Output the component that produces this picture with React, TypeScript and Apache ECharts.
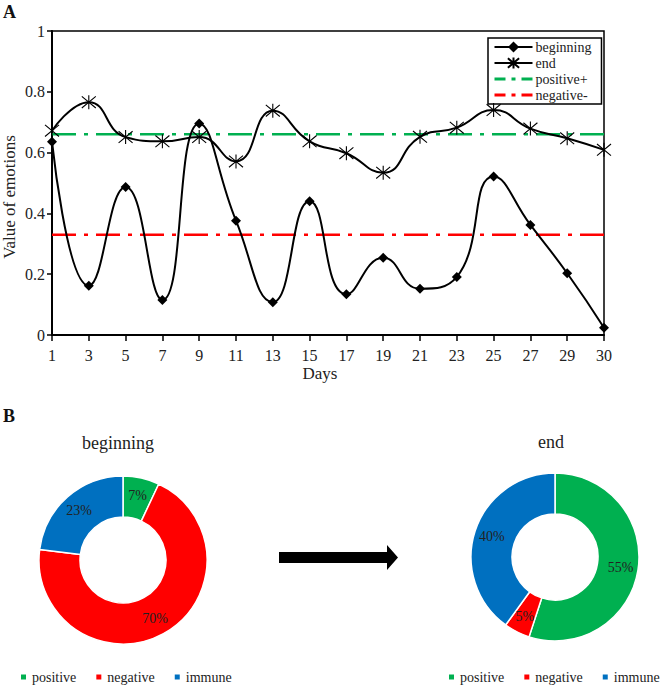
import React, { useEffect, useRef } from "react";
import * as echarts from "echarts";

const days = ["1", "3", "5", "7", "9", "11", "13", "15", "17", "19", "21", "23", "25", "27", "29", "30"];
const beginningValues = [0.636, 0.162, 0.487, 0.115, 0.696, 0.376, 0.108, 0.44, 0.134, 0.254, 0.152, 0.191, 0.521, 0.362, 0.203, 0.024];
const endValues = [0.672, 0.766, 0.651, 0.637, 0.651, 0.571, 0.738, 0.637, 0.598, 0.534, 0.652, 0.682, 0.74, 0.679, 0.647, 0.609];
const positiveLevel = 0.66;
const negativeLevel = 0.33;
const yTicks = [0, 0.2, 0.4, 0.6, 0.8, 1];

const pieCategories = ["positive", "negative", "immune"];
const beginningShares = [7, 70, 23];
const endShares = [55, 5, 40];

const GREEN = "#00B050";
const RED = "#FF0000";
const BLUE = "#0070C0";
const FONT = "Liberation Serif";

const asterisk = "path://M-5,-5L5,5M-5,5L5,-5M0,-6L0,6";

export default function App() {
  const ref = useRef<HTMLDivElement>(null);
  useEffect(() => {
    if (!ref.current) return;
    const chart = echarts.init(ref.current, undefined, { renderer: "svg" });
    const pieColors = [GREEN, RED, BLUE];
    const pieData = (vals: number[]) =>
      pieCategories.map((n, i) => ({ name: n, value: vals[i], itemStyle: { color: pieColors[i] } }));
    const pieCommon = {
      type: "pie",
      radius: [43, 84],
      startAngle: 90,
      clockwise: true,
      silent: true,
      label: {
        show: true,
        position: "inside",
        formatter: "{c}%",
        fontFamily: FONT,
        fontSize: 14,
        color: "#222",
      },
      labelLine: { show: false },
      itemStyle: { borderColor: "#fff", borderWidth: 1.5 },
      emphasis: { disabled: true },
    };
    const dashDot = [24, 8, 4, 8];
    const legendDash = [11, 6, 4, 6];
    const pieLegend = (left: number) => ({
      left,
      top: 670,
      width: 240,
      padding: 0,
      data: pieCategories,
      icon: "rect",
      itemWidth: 7,
      itemHeight: 7,
      itemGap: 18,
      textStyle: { fontFamily: FONT, fontSize: 14, color: "#222" },
      selectedMode: false,
    });
    chart.setOption({
      animation: false,
      textStyle: { fontFamily: FONT, color: "#111" },
      grid: {
        left: 52,
        top: 31,
        width: 552,
        height: 304,
        show: true,
        borderColor: "#000",
        borderWidth: 1.5,
      },
      xAxis: {
        type: "category",
        data: days,
        boundaryGap: false,
        axisLine: { lineStyle: { color: "#000", width: 2 } },
        axisTick: { show: true, alignWithLabel: true, length: 6, lineStyle: { color: "#000", width: 1.5 } },
        axisLabel: { fontFamily: FONT, fontSize: 16, color: "#222", margin: 12, interval: 0 },
        splitLine: { show: false },
      },
      yAxis: {
        type: "value",
        min: 0,
        max: 1,
        interval: 0.2,
        axisLine: { show: true, lineStyle: { color: "#000", width: 2 } },
        axisTick: { show: true, length: 5, lineStyle: { color: "#000", width: 1.5 } },
        axisLabel: {
          fontFamily: FONT,
          fontSize: 16,
          color: "#222",
          margin: 7,
          formatter: (v: number) => {
            const t = yTicks.find((x) => Math.abs(x - v) < 1e-6);
            return t === undefined ? "" : String(t);
          },
        },
        splitLine: { show: false },
      },
      legend: [
        {
          left: 488,
          top: 38,
          orient: "vertical",
          data: [
            { name: "beginning" },
            { name: "end" },
            { name: "positive+", itemStyle: { opacity: 0 }, lineStyle: { type: legendDash, width: 3 } },
            { name: "negative-", itemStyle: { opacity: 0 }, lineStyle: { type: legendDash, width: 3 } },
          ],
          itemWidth: 38,
          itemHeight: 14,
          itemGap: 2,
          padding: [2, 10, 2, 5],
          borderColor: "#000",
          borderWidth: 1.5,
          textStyle: { fontFamily: FONT, fontSize: 14, color: "#222", padding: [0, 0, 0, -2] },
          selectedMode: false,
        },
        pieLegend(19),
        pieLegend(447),
      ],
      series: [
        {
          name: "beginning",
          type: "line",
          data: beginningValues,
          smooth: 0.5,
          symbol: "diamond",
          symbolSize: 10,
          itemStyle: { color: "#000" },
          lineStyle: { color: "#000", width: 2 },
          emphasis: { disabled: true },
          z: 4,
        },
        {
          name: "end",
          type: "line",
          data: endValues,
          smooth: 0.5,
          symbol: asterisk,
          symbolSize: 14,
          itemStyle: { color: "rgba(0,0,0,0)", borderColor: "#000", borderWidth: 1.1 },
          lineStyle: { color: "#000", width: 2 },
          emphasis: { disabled: true },
          z: 4,
        },
        {
          name: "positive+",
          type: "line",
          data: days.map(() => positiveLevel),
          symbol: "none",
          itemStyle: { color: GREEN },
          lineStyle: { color: GREEN, width: 2.5, type: dashDot },
          emphasis: { disabled: true },
          z: 3,
        },
        {
          name: "negative-",
          type: "line",
          data: days.map(() => negativeLevel),
          symbol: "none",
          itemStyle: { color: RED },
          lineStyle: { color: RED, width: 2.5, type: dashDot },
          emphasis: { disabled: true },
          z: 3,
        },
        { ...pieCommon, name: "beginningPie", center: [123, 560], data: pieData(beginningShares) },
        { ...pieCommon, name: "endPie", center: [555, 557], data: pieData(endShares) },
      ],
      graphic: [
        { type: "text", left: 3, top: 3, style: { text: "A", font: `bold 18px ${FONT}`, fill: "#111" } },
        { type: "text", left: 3, top: 407, style: { text: "B", font: `bold 18px ${FONT}`, fill: "#111" } },
        {
          type: "text",
          x: 9,
          y: 197,
          rotation: Math.PI / 2,
          style: { text: "Value of emotions", font: `17px ${FONT}`, fill: "#222", align: "center", verticalAlign: "middle" },
        },
        {
          type: "text",
          x: 320,
          y: 373,
          style: { text: "Days", font: `17px ${FONT}`, fill: "#222", align: "center", verticalAlign: "middle" },
        },
        {
          type: "text",
          x: 118,
          y: 443,
          style: { text: "beginning", font: `18px ${FONT}`, fill: "#222", align: "center", verticalAlign: "middle" },
        },
        {
          type: "text",
          x: 551,
          y: 442,
          style: { text: "end", font: `18px ${FONT}`, fill: "#222", align: "center", verticalAlign: "middle" },
        },
        {
          type: "polygon",
          shape: {
            points: [
              [279, 552],
              [387, 552],
              [387, 545],
              [398, 557.5],
              [387, 570],
              [387, 563],
              [279, 563],
            ],
          },
          style: { fill: "#000" },
        },
      ],
    });
    return () => chart.dispose();
  }, []);
  return <div ref={ref} style={{ position: "fixed", left: 0, top: 0, width: 664, height: 689, background: "#fff" }} />;
}
